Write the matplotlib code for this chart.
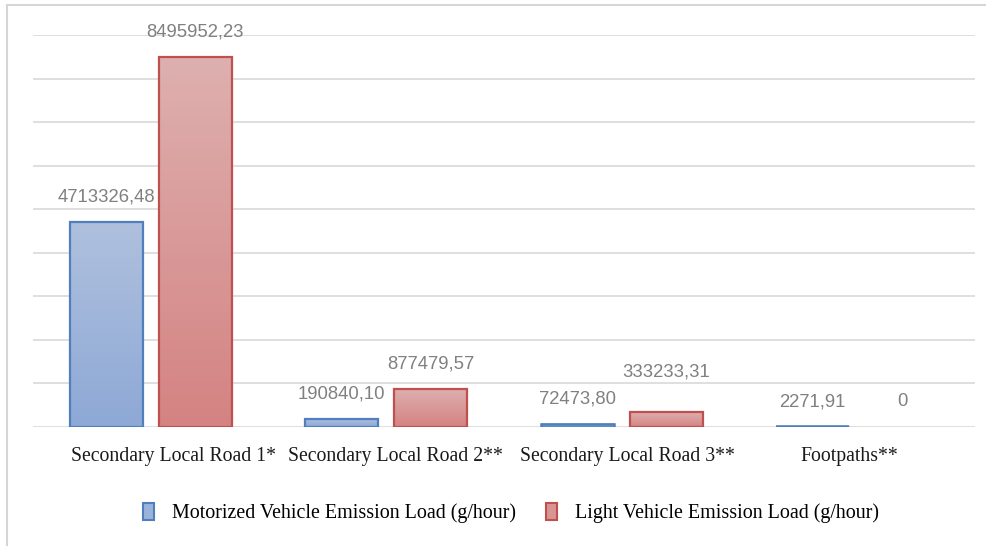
import numpy as np
import matplotlib.pyplot as plt
from matplotlib.colors import LinearSegmentedColormap
from matplotlib.lines import Line2D
from matplotlib.patches import Rectangle
from matplotlib.transforms import offset_copy

categories = ['Secondary Local Road 1*', 'Secondary Local Road 2**',
              'Secondary Local Road 3**', 'Footpaths**']
motorized = [4713326.48, 190840.10, 72473.80, 2271.91]
light = [8495952.23, 877479.57, 333233.31, 0]
motorized_labels = ['4713326,48', '190840,10', '72473,80', '2271,91']
light_labels = ['8495952,23', '877479,57', '333233,31', '0']
series_names = ['Motorized Vehicle Emission Load (g/hour)',
                'Light Vehicle Emission Load (g/hour)']

fig = plt.figure(figsize=(9.87, 5.46), dpi=100)
ax = fig.add_axes([33 / 987, 1 - 427 / 546, 942 / 987, 392 / 546])

# thin frame lines at top and left of the chart area
fig.add_artist(Line2D([7 / 987, 985 / 987], [1 - 5 / 546] * 2, color='#d6d6d6', lw=1.5))
fig.add_artist(Line2D([7 / 987] * 2, [0, 1 - 5 / 546], color='#d6d6d6', lw=1.5))

blue_cmap = LinearSegmentedColormap.from_list('b', ['#afc0de', '#8ea9d6'])
red_cmap = LinearSegmentedColormap.from_list('r', ['#ddb0af', '#d48382'])

x = np.arange(len(categories))
w = 0.31
off = 0.19
grad = np.linspace(0, 1, 100).reshape(-1, 1)


def gradient_bars(xs, vals, cmap, edge):
    for xi, v in zip(xs, vals):
        if v <= 0:
            continue
        ax.imshow(grad, extent=[xi - w / 2, xi + w / 2, 0, v], origin='upper',
                  aspect='auto', cmap=cmap, zorder=2)
        ax.add_patch(Rectangle((xi - w / 2, 0), w, v, fill=False,
                               edgecolor=edge, lw=2.6 if v < 1e4 else 1.8 if v < 1e5 else 1.6,
                               zorder=3))


gradient_bars(x - off, motorized, blue_cmap, '#4f7fbd')
gradient_bars(x + off, light, red_cmap, '#c0504d')

lab_off = 575000
# the 333233,31 label sits a bit higher so it clears its neighbour
extra = {('light', 2): 350000}
lab_kw = dict(ha='center', va='center', color='#808080', fontsize=13.3,
              family='Liberation Sans')
for i, (xi, v, t) in enumerate(zip(x - off, motorized, motorized_labels)):
    ax.text(xi, v + lab_off + extra.get(('motor', i), 0), t, **lab_kw)
for i, (xi, v, t) in enumerate(zip(x + off, light, light_labels)):
    ax.text(xi, v + lab_off + extra.get(('light', i), 0), t, **lab_kw)

ax.set_xlim(-0.5, len(categories) - 0.5)
ax.set_ylim(0, 9e6)
ax.set_yticks(np.arange(0, 9.5e6, 1e6))
ax.set_yticklabels([])
ax.grid(axis='y', color='#d9d9d9', lw=1.2, zorder=0)
ax.set_axisbelow(True)
ax.tick_params(length=0)
for s in ax.spines.values():
    s.set_visible(False)
ax.set_xticks(x)
ax.set_xticklabels([])

# category names, nudged sideways in pixels
name_shift = [23, 9, 6, -8]
for xi, name, dx in zip(x, categories, name_shift):
    tr = offset_copy(ax.get_xaxis_transform(), fig=fig, x=dx, y=-30, units='dots')
    ax.text(xi, 0, name, transform=tr, ha='center', va='center', fontsize=14.2,
            family='Liberation Serif', color='#1a1a1a')

handles = [Rectangle((0, 0), 1, 1, facecolor='#9bb3da', edgecolor='#4f7fbd', lw=1.5),
           Rectangle((0, 0), 1, 1, facecolor='#d89594', edgecolor='#c0504d', lw=1.5)]
fig.legend(handles, series_names, loc='center', bbox_to_anchor=(0.518, 1 - 513 / 546),
           ncol=2, frameon=False, prop={'family': 'Liberation Serif', 'size': 14.4},
           handlelength=0.55, handleheight=0.9, columnspacing=1.5, handletextpad=0.9)

fig.savefig('out.png', dpi=100)
